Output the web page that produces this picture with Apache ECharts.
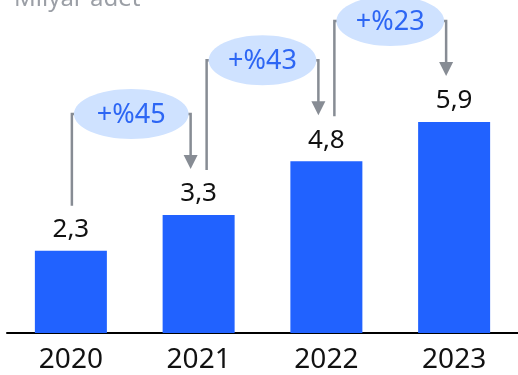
<!DOCTYPE html>
<html>
<head>
<meta charset="utf-8">
<script src="https://cdn.jsdelivr.net/npm/echarts@6/dist/echarts.min.js"></script>
<style>
  html, body { margin: 0; padding: 0; background: #fff; }
  #chart { width: 518px; height: 375px; }
</style>
</head>
<body>
<div id="chart"></div>
<script>
const years = ['2020', '2021', '2022', '2023'];
const values = [2.3, 3.3, 4.8, 5.9];
const growth = ['+%45', '+%43', '+%23'];
const unitLabel = 'Milyar adet';

const font = '"Noto Sans", sans-serif';
const lineColor = '#878c94';

// arrow from bar i to bar i+1, positioned from the bars' own coords
function renderArrow(params, api) {
    const i = api.value(0);
    const p0 = api.coord([i, api.value(1)]);
    const p1 = api.coord([i + 1, api.value(2)]);
    const xL = p0[0] + (i === 0 ? 1 : 8);
    const xR = p1[0] - 8;
    const yBottom = p0[1] - 45;
    const yTop = p1[1] - 101;
    const tip = p1[1] - 46;
    const cx = (xL + xR) / 2;
    const rx = (xR - xL) / 2 - 2;
    const lineStyle = { stroke: lineColor, lineWidth: 2.5, fill: null };
    return {
        type: 'group',
        children: [
            {
                type: 'polyline',
                shape: { points: [[xL, yBottom], [xL, yTop], [xL + 6, yTop]] },
                style: lineStyle,
            },
            {
                type: 'polyline',
                shape: { points: [[xR - 6, yTop], [xR, yTop], [xR, tip - 12]] },
                style: lineStyle,
            },
            {
                type: 'polygon',
                shape: { points: [[xR - 7, tip - 14], [xR + 7, tip - 14], [xR, tip]] },
                style: { fill: lineColor },
            },
            {
                type: 'ellipse',
                shape: { cx: cx, cy: yTop, rx: rx, ry: 25 },
                style: { fill: '#cfe2ff' },
            },
            {
                type: 'text',
                style: {
                    x: cx,
                    y: yTop + 1,
                    text: growth[params.dataIndex],
                    align: 'center',
                    verticalAlign: 'middle',
                    fill: '#2d66f4',
                    fontSize: 27,
                    fontFamily: font,
                },
            },
        ],
    };
}

const option = {
    animation: false,
    title: {
        text: unitLabel,
        left: 9,
        top: -18,
        textStyle: { fontSize: 24, fontWeight: 'normal', color: '#9b9fa6', fontFamily: font },
    },
    grid: { left: 7, width: 514, top: 11, bottom: 42 },
    xAxis: {
        type: 'category',
        data: years,
        axisLine: { lineStyle: { color: '#000', width: 2 } },
        axisTick: { show: false },
        axisLabel: { color: '#111', fontSize: 28, margin: 13, fontFamily: font },
    },
    yAxis: {
        type: 'value',
        min: 0,
        max: 9,
        show: false,
        splitLine: { show: false },
    },
    series: [
        {
            type: 'bar',
            data: values,
            barWidth: 72,
            itemStyle: { color: '#2162ff' },
            label: {
                show: true,
                position: 'top',
                distance: 8,
                color: '#111',
                fontSize: 26,
                fontFamily: font,
                formatter: (p) => String(p.value).replace('.', ','),
            },
        },
        {
            type: 'custom',
            renderItem: renderArrow,
            encode: { x: 0, y: 1 },
            data: growth.map((g, i) => [i, values[i], values[i + 1]]),
            z: 5,
        },
    ],
};

const myChart = echarts.init(document.getElementById('chart'));
myChart.setOption(option);
</script>
</body>
</html>
